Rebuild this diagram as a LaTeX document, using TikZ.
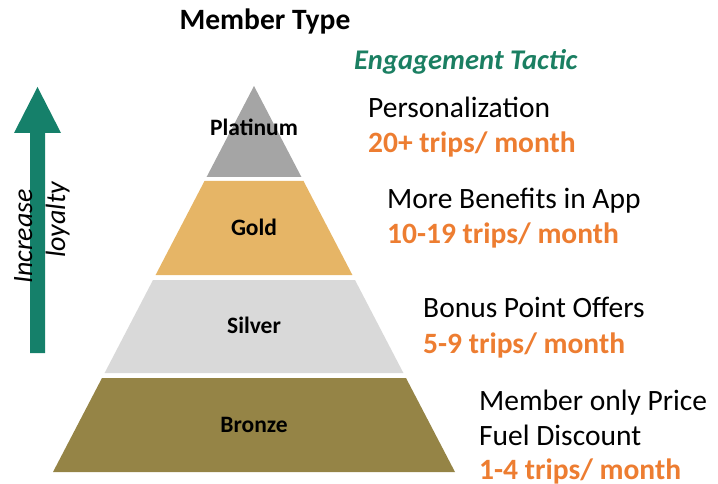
\documentclass[tikz,border=0pt]{standalone}
\usepackage{fontspec}
\setmainfont{Carlito}
\definecolor{platc}{HTML}{A5A5A5}
\definecolor{goldc}{HTML}{E6B566}
\definecolor{silvc}{HTML}{D9D9D9}
\definecolor{bronc}{HTML}{958446}
\definecolor{arrc}{HTML}{15806A}
\definecolor{teal}{HTML}{1B7F62}
\definecolor{orng}{HTML}{ED7D31}
\begin{document}
\begin{tikzpicture}[x=1pt,y=-1pt,
  tier/.style={font=\fontsize{23.5}{25}\selectfont\bfseries, anchor=base},
  tactic/.style={font=\fontsize{29.5}{31}\selectfont, anchor=base west, inner sep=0pt},
  trips/.style={font=\fontsize{29.5}{31}\selectfont\bfseries, text=orng, anchor=base west, inner sep=0pt},
  vlab/.style={font=\fontsize{28}{30}\selectfont\itshape, rotate=90, anchor=base west, inner sep=0pt}]
\useasboundingbox (0,0) rectangle (718,484);
% pyramid
\fill[platc] (254,86) -- (301.4,177) -- (206.6,177) -- cycle;
\fill[goldc] (204.5,181) -- (303.5,181) -- (352.4,275) -- (155.6,275) -- cycle;
\fill[silvc] (153,280) -- (355,280) -- (403.4,373) -- (104.6,373) -- cycle;
\fill[bronc] (102,378) -- (406,378) -- (455,472) -- (53,472) -- cycle;
\node[tier] (plat) at (254,136) {Platinum};
\node[tier] (gold) at (254,235) {Gold};
\node[tier] (silv) at (254,333) {Silver};
\node[tier] (bron) at (254,432) {Bronze};
% arrow
\fill[arrc] (30,353) -- (45,353) -- (45,133) -- (61,133) -- (37.5,87) -- (14,133) -- (30,133) -- cycle;
\node[vlab] (inc) at (32,284) {Increase};
\node[vlab] (loy) at (65,258) {loyalty};
% headings
\node[font=\fontsize{29.5}{31}\selectfont\bfseries, anchor=base, inner sep=0pt] (mt) at (265,30) {Member Type};
\node[font=\fontsize{28.5}{30}\selectfont\bfseries\itshape, text=teal, anchor=base west, inner sep=0pt] (et) at (354,70) {Engagement Tactic};
% tactics
\node[tactic] (t1) at (368,118) {Personalization};
\node[trips] (r1) at (368,153) {20+ trips/ month};
\node[tactic] (t2) at (387,208) {More Benefits in App};
\node[trips] (r2) at (387,243) {10-19 trips/ month};
\node[tactic] (t3) at (423,317) {Bonus Point Offers};
\node[trips] (r3) at (423,353) {5-9 trips/ month};
\node[tactic] (t4a) at (479,410) {Member only Price};
\node[tactic] (t4b) at (479,445) {Fuel Discount};
\node[trips] (r4) at (479,479) {1-4 trips/ month};
\end{tikzpicture}
\end{document}
